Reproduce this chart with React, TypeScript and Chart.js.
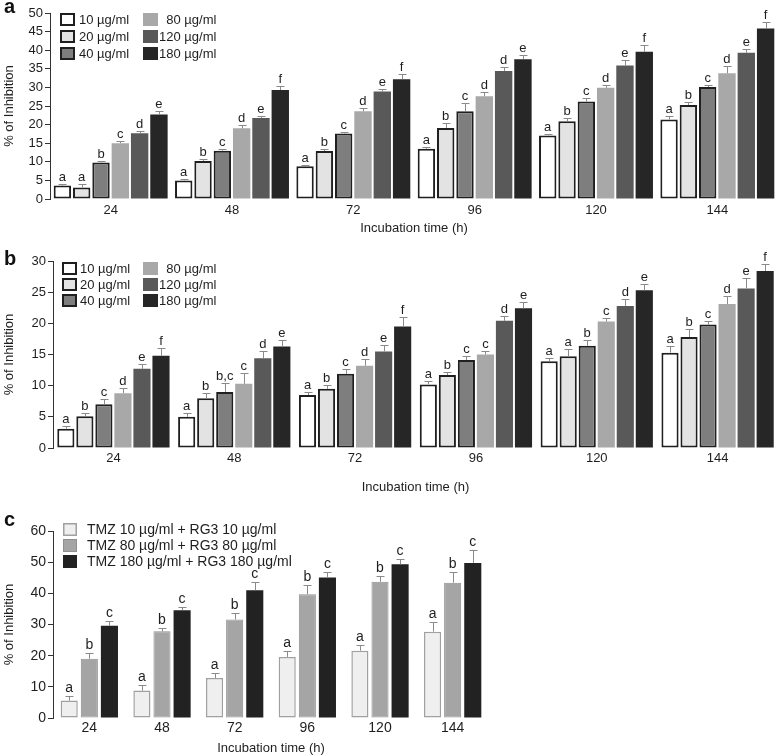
import React, { useEffect, useRef } from 'react';
import { Chart, registerables } from 'chart.js';

Chart.register(...registerables);

const FONT = "'Liberation Sans', Arial, Helvetica, sans-serif";
const TEXT = '#1e1e1e';
const AXIS = '#333333';
const ERR = '#8a8a8a';

// ---------- shared categories ----------
const TIMES = ['24', '48', '72', '96', '120', '144'];
const CONC_LABELS = ['10 µg/ml', '20 µg/ml', '40 µg/ml', '\u200780 µg/ml', '120 µg/ml', '180 µg/ml'];

// ---------- panel a ----------
const A_10 = [3.6, 5.0, 8.8, 13.5, 17.1, 21.4];
const A_20 = [3.1, 10.2, 12.9, 19.1, 20.9, 25.3];
const A_40 = [9.8, 13.0, 17.6, 23.6, 26.2, 30.1];
const A_80 = [15.0, 19.0, 23.6, 27.6, 29.9, 33.8];
const A_120 = [17.7, 21.8, 28.9, 34.4, 35.9, 39.3];
const A_180 = [22.7, 29.3, 32.2, 37.6, 39.6, 45.8];

const A_10_ERR = [0.3, 0.3, 0.3, 0.6, 0.4, 0.8];
const A_20_ERR = [0.8, 0.6, 0.5, 1.2, 1.0, 0.7];
const A_40_ERR = [0.5, 0.5, 0.3, 2.1, 0.9, 0.6];
const A_80_ERR = [0.5, 0.8, 0.8, 1.2, 0.8, 2.0];
const A_120_ERR = [0.6, 0.6, 0.6, 1.1, 1.4, 1.0];
const A_180_ERR = [1.0, 1.0, 1.5, 1.2, 1.7, 1.8];

const A_10_SIG = ['a', 'a', 'a', 'a', 'a', 'a'];
const A_20_SIG = ['a', 'b', 'b', 'b', 'b', 'b'];
const A_40_SIG = ['b', 'c', 'c', 'c', 'c', 'c'];
const A_80_SIG = ['c', 'd', 'd', 'd', 'd', 'd'];
const A_120_SIG = ['d', 'e', 'e', 'd', 'e', 'e'];
const A_180_SIG = ['e', 'f', 'f', 'e', 'f', 'f'];

// ---------- panel b ----------
const B_10 = [3.1, 5.0, 8.5, 10.2, 13.9, 15.3];
const B_20 = [5.1, 8.0, 9.5, 11.7, 14.7, 17.8];
const B_40 = [7.0, 9.0, 11.9, 14.1, 16.4, 19.8];
const B_80 = [8.8, 10.3, 13.2, 15.0, 20.3, 23.1];
const B_120 = [12.7, 14.4, 15.5, 20.4, 22.8, 25.6];
const B_180 = [14.8, 16.3, 19.5, 22.4, 25.3, 28.4];

const B_10_ERR = [0.4, 0.6, 0.5, 0.5, 0.6, 1.0];
const B_20_ERR = [0.5, 0.8, 0.6, 0.5, 1.2, 1.3];
const B_40_ERR = [0.8, 1.4, 0.8, 0.6, 1.0, 0.6];
const B_80_ERR = [0.8, 1.8, 1.0, 0.6, 0.6, 1.3];
const B_120_ERR = [0.7, 1.2, 1.0, 0.8, 1.1, 1.6];
const B_180_ERR = [1.2, 1.0, 1.5, 1.1, 1.0, 1.1];

const B_10_SIG = ['a', 'a', 'a', 'a', 'a', 'a'];
const B_20_SIG = ['b', 'b', 'b', 'b', 'a', 'b'];
const B_40_SIG = ['c', 'b,c', 'c', 'c', 'b', 'c'];
const B_80_SIG = ['d', 'c', 'd', 'c', 'c', 'd'];
const B_120_SIG = ['e', 'd', 'e', 'd', 'd', 'e'];
const B_180_SIG = ['f', 'e', 'f', 'e', 'e', 'f'];

// ---------- panel c ----------
const C_LABELS = ['TMZ 10 µg/ml + RG3 10 µg/ml', 'TMZ 80 µg/ml + RG3 80 µg/ml', 'TMZ 180 µg/ml + RG3 180 µg/ml'];
const C_10 = [5.6, 8.8, 12.8, 19.6, 21.6, 27.7];
const C_80 = [19.0, 27.8, 31.6, 39.7, 43.7, 43.4];
const C_180 = [29.6, 34.6, 41.0, 45.1, 49.3, 49.7];

const C_10_ERR = [1.5, 1.8, 1.5, 2.0, 1.9, 3.2];
const C_80_ERR = [1.8, 1.2, 2.2, 3.0, 1.8, 3.5];
const C_180_ERR = [1.5, 1.0, 2.5, 1.8, 1.6, 4.2];

const C_10_SIG = ['a', 'a', 'a', 'a', 'a', 'a'];
const C_80_SIG = ['b', 'b', 'b', 'b', 'b', 'b'];
const C_180_SIG = ['c', 'c', 'c', 'c', 'c', 'c'];

// ---------- styles ----------
const CONC_FILL = ['#ffffff', '#e3e3e3', '#7e7e7e', '#a8a8a8', '#595959', '#262626'];
const CONC_BORDER = ['#1f1f1f', '#1f1f1f', '#1f1f1f', '#a8a8a8', '#595959', '#262626'];
const CONC_BW = [2, 2, 2, 0, 0, 0];
const C_FILL = ['#efefef', '#a5a5a5', '#222222'];
const C_BORDER = ['#a0a0a0', '#8f8f8f', '#222222'];
const C_BW = [1.5, 1, 0];

type LegendLayout = { colX: number[]; textX: number[]; rowY: number[]; boxW: number; boxH: number; font: number };

type PanelSpec = {
  letter: string;
  letterY: number;
  labels: string[];
  series: number[][];
  errs: number[][];
  sigs: string[][];
  names: string[];
  fills: string[];
  borders: string[];
  bws: number[];
  yMax: number;
  yStep: number;
  yLabelEvery: number;
  padTop: number;
  padRight: number;
  yWidth: number;
  xHeight: number;
  xTickPad: number;
  xTitlePad: number;
  tickFont: number;
  titleFont: number;
  catPct: number;
  barPct: number;
  legend: LegendLayout;
};

function extrasPlugin(p: PanelSpec) {
  return {
    id: 'panelExtras',
    afterDatasetsDraw(chart: any) {
      const ctx: CanvasRenderingContext2D = chart.ctx;
      const ys = chart.scales.y;
      ctx.save();
      chart.data.datasets.forEach((ds: any, i: number) => {
        const meta = chart.getDatasetMeta(i);
        meta.data.forEach((bar: any, j: number) => {
          const v = ds.data[j] as number;
          const top = Math.round(ys.getPixelForValue(v + p.errs[i][j])) + 0.5;
          const x = Math.round(bar.x) + 0.5;
          ctx.strokeStyle = ERR;
          ctx.lineWidth = 1;
          ctx.beginPath();
          ctx.moveTo(x, bar.y);
          ctx.lineTo(x, top);
          ctx.moveTo(x - 4, top);
          ctx.lineTo(x + 4, top);
          ctx.stroke();
          ctx.fillStyle = TEXT;
          ctx.font = `${p.tickFont}px ${FONT}`;
          ctx.textAlign = 'center';
          ctx.textBaseline = 'bottom';
          ctx.fillText(p.sigs[i][j], bar.x, top - 1);
        });
      });
      ctx.restore();
    },
    afterDraw(chart: any) {
      const ctx: CanvasRenderingContext2D = chart.ctx;
      const L = p.legend;
      const rows = L.rowY.length;
      ctx.save();
      chart.data.datasets.forEach((ds: any, i: number) => {
        const col = Math.floor(i / rows);
        const row = i % rows;
        const bx = L.colX[col];
        const by = L.rowY[row];
        ctx.fillStyle = ds.backgroundColor;
        ctx.fillRect(bx, by, L.boxW, L.boxH);
        if (ds.borderWidth > 0) {
          ctx.strokeStyle = ds.borderColor;
          ctx.lineWidth = ds.borderWidth;
          const h = ds.borderWidth / 2;
          ctx.strokeRect(bx + h, by + h, L.boxW - ds.borderWidth, L.boxH - ds.borderWidth);
        }
        ctx.fillStyle = TEXT;
        ctx.font = `${L.font}px ${FONT}`;
        ctx.textAlign = 'left';
        ctx.textBaseline = 'middle';
        ctx.fillText(ds.label, L.textX[col], by + L.boxH / 2 + 0.5);
      });
      ctx.font = `bold 20px ${FONT}`;
      ctx.textAlign = 'left';
      ctx.textBaseline = 'alphabetic';
      ctx.fillStyle = '#111';
      ctx.fillText(p.letter, 4, p.letterY);
      ctx.restore();
    },
  };
}

function buildConfig(p: PanelSpec): any {
  return {
    type: 'bar',
    data: {
      labels: p.labels,
      datasets: p.series.map((s, i) => ({
        label: p.names[i],
        data: s,
        backgroundColor: p.fills[i],
        borderColor: p.borders[i],
        borderWidth: p.bws[i],
        borderSkipped: false,
        categoryPercentage: p.catPct,
        barPercentage: p.barPct,
      })),
    },
    options: {
      animation: false,
      responsive: false,
      maintainAspectRatio: false,
      events: [],
      layout: { padding: { top: p.padTop, left: 0, right: p.padRight, bottom: 0 } },
      plugins: { legend: { display: false }, tooltip: { enabled: false } },
      scales: {
        x: {
          type: 'category',
          grid: { display: false, drawTicks: false, tickLength: 0 },
          border: { display: false },
          ticks: { color: TEXT, font: { family: FONT, size: p.tickFont }, padding: p.xTickPad, maxRotation: 0 },
          title: {
            display: true,
            text: 'Incubation time (h)',
            color: TEXT,
            font: { family: FONT, size: p.titleFont },
            padding: { top: 0, bottom: p.xTitlePad },
          },
          afterFit: (s: any) => {
            s.height = p.xHeight;
          },
        },
        y: {
          min: 0,
          max: p.yMax,
          grid: { drawOnChartArea: false, drawTicks: true, tickLength: 5, color: AXIS },
          border: { display: true, color: AXIS, width: 1 },
          ticks: {
            stepSize: p.yStep,
            color: TEXT,
            padding: 2,
            font: { family: FONT, size: p.tickFont },
            callback: (v: any) => (Number(v) % p.yLabelEvery === 0 ? String(v) : ''),
          },
          title: {
            display: true,
            text: '% of Inhibition',
            color: TEXT,
            font: { family: FONT, size: p.titleFont },
            padding: { top: 2, bottom: 0 },
          },
          afterFit: (s: any) => {
            s.width = p.yWidth;
          },
        },
      },
    },
    plugins: [extrasPlugin(p)],
  };
}

const PANEL_A: PanelSpec = {
  letter: 'a',
  letterY: 13,
  labels: TIMES,
  series: [A_10, A_20, A_40, A_80, A_120, A_180],
  errs: [A_10_ERR, A_20_ERR, A_40_ERR, A_80_ERR, A_120_ERR, A_180_ERR],
  sigs: [A_10_SIG, A_20_SIG, A_40_SIG, A_80_SIG, A_120_SIG, A_180_SIG],
  names: CONC_LABELS,
  fills: CONC_FILL,
  borders: CONC_BORDER,
  bws: CONC_BW,
  yMax: 50,
  yStep: 5,
  yLabelEvery: 5,
  padTop: 13,
  padRight: 0,
  yWidth: 50,
  xHeight: 39,
  xTickPad: 4,
  xTitlePad: 2,
  tickFont: 13,
  titleFont: 13,
  catPct: 0.955,
  barPct: 0.9,
  legend: { colX: [60, 143], textX: [79, 159], rowY: [13, 30, 47], boxW: 15, boxH: 13, font: 13 },
};

const PANEL_B: PanelSpec = {
  letter: 'b',
  letterY: 27,
  labels: TIMES,
  series: [B_10, B_20, B_40, B_80, B_120, B_180],
  errs: [B_10_ERR, B_20_ERR, B_40_ERR, B_80_ERR, B_120_ERR, B_180_ERR],
  sigs: [B_10_SIG, B_20_SIG, B_40_SIG, B_80_SIG, B_120_SIG, B_180_SIG],
  names: CONC_LABELS,
  fills: CONC_FILL,
  borders: CONC_BORDER,
  bws: CONC_BW,
  yMax: 30,
  yStep: 2.5,
  yLabelEvery: 5,
  padTop: 23,
  padRight: 0,
  yWidth: 53,
  xHeight: 52,
  xTickPad: 3,
  xTitlePad: 5,
  tickFont: 13,
  titleFont: 13,
  catPct: 0.945,
  barPct: 0.9,
  legend: { colX: [62, 143], textX: [80, 159], rowY: [24, 40, 56], boxW: 15, boxH: 13, font: 13 },
};

const PANEL_C: PanelSpec = {
  letter: 'c',
  letterY: 26,
  labels: TIMES,
  series: [C_10, C_80, C_180],
  errs: [C_10_ERR, C_80_ERR, C_180_ERR],
  sigs: [C_10_SIG, C_80_SIG, C_180_SIG],
  names: C_LABELS,
  fills: C_FILL,
  borders: C_BORDER,
  bws: C_BW,
  yMax: 60,
  yStep: 5,
  yLabelEvery: 10,
  padTop: 31,
  padRight: 6,
  yWidth: 53,
  xHeight: 38,
  xTickPad: 2,
  xTitlePad: 0,
  tickFont: 14,
  titleFont: 13,
  catPct: 0.83,
  barPct: 0.85,
  legend: { colX: [63], textX: [87], rowY: [23, 39, 55], boxW: 14, boxH: 13, font: 14 },
};

function Panel({ spec, top, width, height }: { spec: PanelSpec; top: number; width: number; height: number }) {
  const ref = useRef<HTMLCanvasElement | null>(null);
  useEffect(() => {
    if (!ref.current) return;
    const chart = new Chart(ref.current, buildConfig(spec));
    return () => chart.destroy();
  }, [spec]);
  return (
    <canvas
      ref={ref}
      width={width}
      height={height}
      style={{ position: 'absolute', left: 0, top, width, height, display: 'block' }}
    />
  );
}

export default function App() {
  return (
    <div
      style={{
        position: 'fixed',
        left: 0,
        top: 0,
        width: 778,
        height: 756,
        background: '#ffffff',
        overflow: 'hidden',
      }}
    >
      <Panel spec={PANEL_A} top={0} width={778} height={238} />
      <Panel spec={PANEL_B} top={238} width={778} height={262} />
      <Panel spec={PANEL_C} top={500} width={495} height={256} />
    </div>
  );
}
